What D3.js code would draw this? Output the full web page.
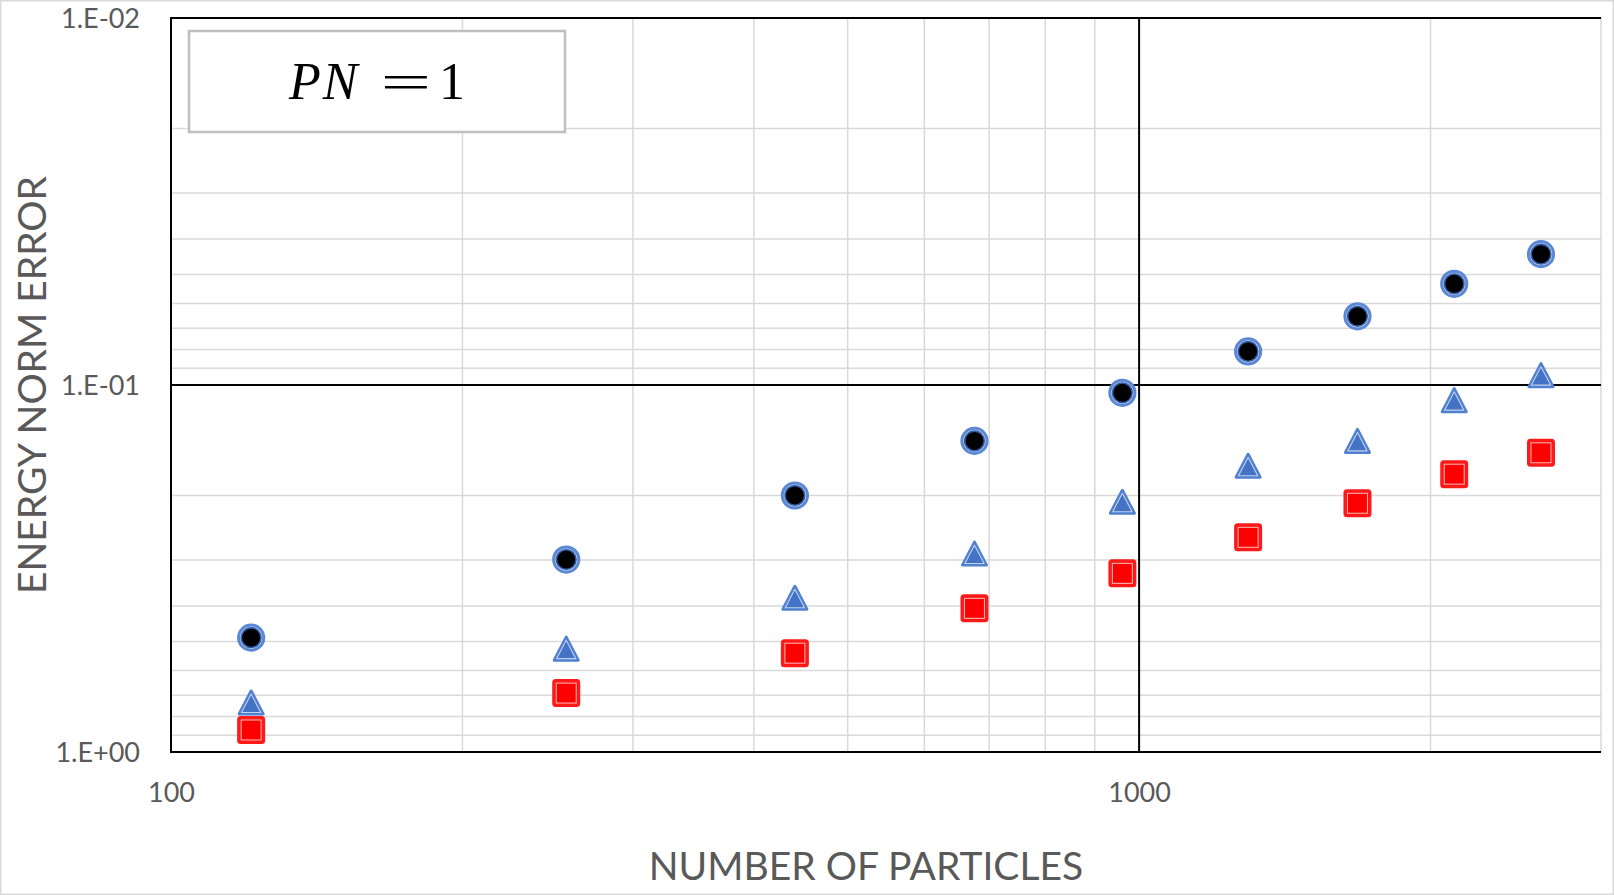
<!DOCTYPE html>
<html>
<head>
<meta charset="utf-8">
<script src="https://cdn.jsdelivr.net/npm/d3@7"></script>
<style>
  html, body { margin: 0; padding: 0; background: #ffffff; }
  svg { display: block; }
</style>
</head>
<body>
<svg id="chart" width="1614" height="895"></svg>
<script>
// Number of particles (x) for each run
const particles = [121, 256, 441, 676, 961, 1296, 1681, 2116, 2601];

// Energy norm error for the three series
const errorCircle   = [0.488, 0.299, 0.200, 0.142, 0.105, 0.081, 0.065, 0.053, 0.044];
const errorTriangle = [0.733, 0.523, 0.380, 0.288, 0.208, 0.166, 0.142, 0.110, 0.094];
const errorSquare   = [0.871, 0.691, 0.538, 0.406, 0.326, 0.260, 0.210, 0.175, 0.153];

// Axis tick values and labels
const xTickValues = [100, 1000];
const xTickLabels = ["100", "1000"];
const yTickValues = [1, 0.1, 0.01];
const yTickLabels = ["1.E+00", "1.E-01", "1.E-02"];

const annotation = { variable: "PN", value: "1" };

const W = 1614, H = 895;
const plot = { left: 171, right: 1601, top: 18, bottom: 752 };
const textColor = "#595959";
const labelFont = "Lato, 'Open Sans', sans-serif";

const svg = d3.select("#chart");

// chart area border
svg.append("rect")
  .attr("x", 0.75).attr("y", 0.75)
  .attr("width", W - 1.5).attr("height", H - 1.5)
  .attr("fill", "#ffffff")
  .attr("stroke", "#d9d9d9").attr("stroke-width", 1.5);

const x = d3.scaleLog().domain([100, 3000]).range([plot.left, plot.right]);
const y = d3.scaleLog().domain([1, 0.01]).range([plot.bottom, plot.top]);

// minor grid values (2..9 of each decade)
const xMinor = [];
[100, 1000].forEach(d => { for (let k = 2; k <= 9; k++) { const v = d * k; if (v <= 3000) xMinor.push(v); } });
const yMinor = [];
[0.01, 0.1].forEach(d => { for (let k = 2; k <= 9; k++) yMinor.push(d * k); });

const grid = svg.append("g");

// minor gridlines
grid.append("g").selectAll("line").data(xMinor).join("line")
  .attr("x1", d => x(d)).attr("x2", d => x(d))
  .attr("y1", plot.top).attr("y2", plot.bottom)
  .attr("stroke", "#d9d9d9").attr("stroke-width", 1.5);
grid.append("g").selectAll("line").data(yMinor).join("line")
  .attr("x1", plot.left).attr("x2", plot.right)
  .attr("y1", d => y(d)).attr("y2", d => y(d))
  .attr("stroke", "#d9d9d9").attr("stroke-width", 1.5);

// major gridlines (decades)
grid.append("g").selectAll("line").data(xTickValues).join("line")
  .attr("x1", d => x(d)).attr("x2", d => x(d))
  .attr("y1", plot.top - 1).attr("y2", plot.bottom + 1)
  .attr("stroke", "#000000").attr("stroke-width", 2);
grid.append("g").selectAll("line").data(yTickValues).join("line")
  .attr("x1", plot.left - 1).attr("x2", plot.right)
  .attr("y1", d => y(d)).attr("y2", d => y(d))
  .attr("stroke", "#000000").attr("stroke-width", 2);

// axes (labels only; lines are drawn as gridlines above)
const xAxis = d3.axisBottom(x)
  .tickValues(xTickValues)
  .tickFormat((d, i) => xTickLabels[i])
  .tickSize(0).tickPadding(0);
const gx = svg.append("g").attr("transform", `translate(0,${plot.bottom})`).call(xAxis);
gx.select(".domain").remove();
gx.selectAll("text")
  .attr("dy", null).attr("y", 50)
  .attr("fill", textColor)
  .style("font-family", labelFont).style("font-size", "27px");

const yAxis = d3.axisLeft(y)
  .tickValues(yTickValues)
  .tickFormat((d, i) => yTickLabels[i])
  .tickSize(0).tickPadding(31);
const gy = svg.append("g").attr("transform", `translate(${plot.left},0)`).call(yAxis);
gy.select(".domain").remove();
gy.selectAll("text")
  .attr("dy", "0.36em")
  .attr("fill", textColor)
  .style("font-family", labelFont).style("font-size", "27px");

// axis titles
svg.append("text")
  .attr("transform", `translate(46,${(plot.top + plot.bottom) / 2}) rotate(-90)`)
  .attr("text-anchor", "middle")
  .attr("fill", textColor)
  .style("font-family", labelFont).style("font-size", "39px")
  .text("ENERGY NORM ERROR");

svg.append("text")
  .attr("x", 866).attr("y", 880)
  .attr("text-anchor", "middle")
  .attr("fill", textColor)
  .style("font-family", labelFont).style("font-size", "39px")
  .text("NUMBER OF PARTICLES");

// annotation box
const box = svg.append("g");
box.append("rect")
  .attr("x", 189).attr("y", 31).attr("width", 376).attr("height", 101)
  .attr("fill", "#ffffff").attr("stroke", "#bfbfbf").attr("stroke-width", 2.5);
const mathFont = "'Liberation Serif', 'DejaVu Serif', serif";
box.append("text")
  .attr("x", 289).attr("y", 99)
  .attr("fill", "#000000")
  .style("font-family", mathFont).style("font-size", "52px").style("font-style", "italic")
  .attr("letter-spacing", 2)
  .text(annotation.variable);
// wide math-style equals sign
box.append("text")
  .attr("transform", "translate(406,99) scale(1.8,1)")
  .attr("text-anchor", "middle")
  .attr("fill", "#000000")
  .style("font-family", mathFont).style("font-size", "50px")
  .text("=");
box.append("text")
  .attr("x", 439).attr("y", 99)
  .attr("fill", "#000000")
  .style("font-family", mathFont).style("font-size", "52px")
  .text(annotation.value);

// marker shapes
function triPath(w, h, k) {
  // triangle centred on its bounding box, scaled by k about its centroid
  const cy = h / 6;
  const pts = [[0, -h / 2], [w / 2, h / 2], [-w / 2, h / 2]]
    .map(([px, py]) => [px * k, cy + (py - cy) * k]);
  return "M" + pts.map(p => p.join(",")).join("L") + "Z";
}

const circleData   = particles.map((p, i) => ({ p, e: errorCircle[i] }));
const triangleData = particles.map((p, i) => ({ p, e: errorTriangle[i] }));
const squareData   = particles.map((p, i) => ({ p, e: errorSquare[i] }));

// circles: blue ring, light gap, dark-blue ring, black core
const gc = svg.append("g").selectAll("g").data(circleData).join("g")
  .attr("transform", d => `translate(${x(d.p)},${y(d.e)})`);
gc.append("circle").attr("r", 12.6)
  .attr("fill", "#d4dbe8").attr("stroke", "#5a88d6").attr("stroke-width", 3);
gc.append("circle").attr("r", 9.8)
  .attr("fill", "#000000").attr("stroke", "#2f5ba8").attr("stroke-width", 1.6);

// triangles
const gt = svg.append("g").selectAll("g").data(triangleData).join("g")
  .attr("transform", d => `translate(${x(d.p)},${y(d.e)})`);
gt.append("path").attr("d", triPath(24, 23, 1))
  .attr("fill", "#4472c4").attr("stroke", "#5080d0").attr("stroke-width", 3)
  .attr("stroke-linejoin", "round");
gt.append("path").attr("d", triPath(24, 23, 0.8))
  .attr("fill", "none").attr("stroke", "rgba(255,255,255,0.65)").attr("stroke-width", 1.1)
  .attr("stroke-linejoin", "round");

// squares
const gs = svg.append("g").selectAll("g").data(squareData).join("g")
  .attr("transform", d => `translate(${x(d.p)},${y(d.e)})`);
gs.append("rect").attr("x", -12.5).attr("y", -12.5).attr("width", 25).attr("height", 25)
  .attr("rx", 2)
  .attr("fill", "#ff0000").attr("stroke", "#ff1a1a").attr("stroke-width", 3);
gs.append("rect").attr("x", -10).attr("y", -10).attr("width", 20).attr("height", 20)
  .attr("fill", "none").attr("stroke", "rgba(255,255,255,0.7)").attr("stroke-width", 1.1);
</script>
</body>
</html>
